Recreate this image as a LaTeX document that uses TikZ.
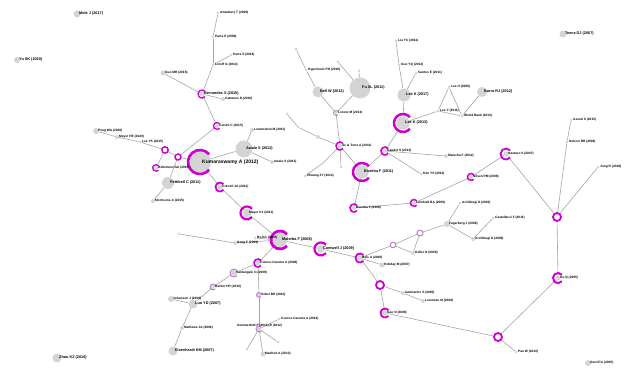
\documentclass[tikz,border=0pt]{standalone}
\usepackage{fontspec}
\setmainfont{Liberation Sans}
\usepackage{tikz}
\usetikzlibrary{backgrounds}
\usetikzlibrary{positioning}
\definecolor{ringmag}{RGB}{205,0,205}
\definecolor{ringlite}{RGB}{185,120,205}
\definecolor{paperfill}{RGB}{212,212,212}
\definecolor{linkgray}{RGB}{165,165,165}
\newcommand{\drawCring}[3]{\draw[cring, line width=#3] (#1.center)+(40:#2) arc[start angle=40, end angle=320, radius=#2];}
\newcommand{\drawOring}[3]{\draw[cring, line width=#3] (#1.center) circle[radius=#2];}
\newcommand{\drawLring}[2]{\draw[lring] (#1.center)+(40:#2) arc[start angle=40, end angle=320, radius=#2];}
\newcommand{\tagnode}[3]{\node[#3, right=2pt of #1.center] (#1-t) {#2};}
\tikzset{
    paper/.style={circle, fill=paperfill, inner sep=0pt, minimum size=#1},
    paper/.default=3pt,
    hub/.style={circle, inner sep=0pt, minimum size=#1},
    cring/.style={draw=ringmag},
    lring/.style={draw=ringlite, line width=0.9pt},
    link/.style={draw=linkgray, line width=0.6pt},
    tagS/.style={inner sep=0pt, font=\fontsize{3.2}{4}\selectfont\bfseries},
    tagM/.style={inner sep=0pt, font=\fontsize{3.8}{4.5}\selectfont\bfseries},
    tagL/.style={inner sep=0pt, font=\fontsize{5}{6}\selectfont\bfseries}}

\begin{document}
\begin{tikzpicture}[x=1pt, y=-1pt]
\useasboundingbox (0,0) rectangle (627,371);
% papers with no link
\node[paper=7pt] (mole)    at (77,14)   {};
\node[paper=6pt] (yu)      at (17,60)   {};
\node[paper=7pt] (teece)   at (563,34)  {};
\node[paper=9pt] (zhou)    at (57,358)  {};
\node[paper=6pt] (geroff)  at (588,363) {};
% left cluster
\node[paper=5pt]  (guo)        at (163,73)  {};
\node[paper]      (attenbury)  at (218,13)  {};
\node[paper]      (parraE)     at (213,37)  {};
\node[paper]      (parraS)     at (231,55)  {};
\node[paper]      (leroff)     at (213,65)  {};
\node[paper=5pt]  (bernardes)  at (202,94)  {};
\node[paper=4pt]  (cattaneo)   at (223,99)  {};
\node[paper=4pt]  (cerutti)    at (217,126) {};
\node[paper=6pt]  (pengWA)     at (96,131)  {};
\node[paper=4pt]  (meyerHE)    at (117,137) {};
\node[paper]      (leeYS)      at (140,142) {};
\node[hub=6pt]    (ringA)      at (165,150) {};
\node[hub=6pt]    (ringB)      at (178,157) {};
\node[paper=4pt]  (bellemont)  at (156,168) {};
\node[paper=12pt] (pettibell)  at (168,183) {};
\node[paper=4pt]  (morrisons)  at (153,201) {};
\node[paper=22pt] (kumar)      at (200,162) {};
\node[paper=17pt] (awale)      at (244,149) {};
\node[paper=4pt]  (lowenstein) at (252,130) {};
\node[paper=4pt]  (awale13)    at (272,162) {};
\node[paper=5pt]  (cottrell)   at (220,187) {};
\node[paper=9pt]  (mayer)      at (247,213) {};
% lower left cluster
\node[paper]      (dotDeng)    at (179,234) {};
\node[paper=4pt]  (deng)       at (235,243) {};
\node[paper]      (buKC)       at (255,238) {};
\node[paper=14pt] (malerba)    at (280,240) {};
\node[paper=8pt]  (cantwell)   at (321,249) {};
\node[paper=5pt]  (cuervo08)   at (258,263) {};
\node[paper=6pt]  (santangelo) at (234,273) {};
\node[paper=4pt]  (barber)     at (213,287) {};
\node[paper=9pt]  (luoYD)      at (193,304) {};
\node[paper=6pt]  (johanson)   at (171,299) {};
\node[paper=4pt]  (mathews)    at (182,328) {};
\node[paper=9pt]  (eisenhardt) at (173,351) {};
\node[paper=4pt]  (sobel)      at (259,295) {};
\node[paper=4pt]  (sommer)     at (259,329) {};
\node[paper]      (cuervo12)   at (279,319) {};
\node[paper=5pt]  (madhok)     at (263,354) {};
\node[paper]      (dotS1)      at (247,349) {};
\node[paper]      (dotS2)      at (278,342) {};
% top cluster
\node[paper]      (dotH1)      at (296,49)  {};
\node[paper]      (hyperionis) at (306,70)  {};
\node[paper=11pt] (bellW)      at (318,92)  {};
\node[paper=21pt] (fuxl)       at (360,88)  {};
\node[paper]      (dotF1)      at (338,62)  {};
\node[paper]      (dotF2)      at (359,71)  {};
\node[paper]      (lorenz)     at (336,113) {};
\node[paper]      (dotT1)      at (287,114) {};
\node[paper]      (dotT2)      at (298,127) {};
\node[paper=4pt]  (dotT3)      at (318,137) {};
\node[paper=4pt]  (delatorre)  at (340,146) {};
\node[paper]      (zhuang)     at (305,176) {};
\node[paper]      (dotZ)       at (323,163) {};
\node[paper]      (dotD)       at (341,167) {};
\node[paper=13pt] (bicerba)    at (362,172) {};
\node[paper=4pt]  (gaudet)     at (385,151) {};
\node[paper=13pt] (leeK13)     at (403,123) {};
\node[paper=13pt] (leeK17)     at (404,95)  {};
\node[paper]      (guoYQ)      at (399,65)  {};
\node[paper]      (liuYC)      at (396,41)  {};
\node[paper]      (santos)     at (416,73)  {};
\node[paper]      (leeY)       at (438,111) {};
\node[paper]      (leeH)       at (449,87)  {};
\node[paper]      (worldbank)  at (462,116) {};
\node[paper=10pt] (barro)      at (482,92)  {};
\node[paper=4pt]  (malecha)    at (446,156) {};
\node[paper]      (kimYS)      at (421,174) {};
% right cluster
\node[paper=4pt]  (bicerba08)  at (354,208) {};
\node[paper=4pt]  (lundvall)   at (414,203) {};
\node[paper=4pt]  (nilsen)     at (471,177) {};
\node[paper=5pt]  (nazzaro)    at (506,154) {};
\node[hub=8pt]    (hubR)       at (557,217) {};
\node[paper]      (nelson)     at (567,142) {};
\node[paper]      (assoti)     at (571,120) {};
\node[paper]      (jong)       at (598,167) {};
\node[paper=5pt]  (huQ)        at (558,278) {};
\node[hub=8pt]    (ringP)      at (498,337) {};
\node[paper]      (panW)       at (516,352) {};
\node[paper=6pt]  (fagerberg)  at (447,224) {};
\node[paper]      (archi03)    at (460,203) {};
\node[paper]      (castellacci) at (493,218) {};
\node[paper=4pt]  (archi09)    at (473,239) {};
\node[hub=6pt]    (ringK1)     at (420,233) {};
\node[hub=5pt]    (ringK2)     at (393,245) {};
\node[paper=4pt]  (koller)     at (413,253) {};
\node[paper=5pt]  (bais)       at (360,258) {};
\node[paper=5pt]  (hobday)     at (382,265) {};
\node[hub=8pt]    (ringI)      at (380,285) {};
\node[paper=4pt]  (iammarino)  at (403,293) {};
\node[paper=4pt]  (lorenzen)   at (423,301) {};
\node[paper=5pt]  (gaoN)       at (385,313) {};
% links
\begin{scope}[on background layer, every edge/.style={link}]
\fill[white] (0,0) rectangle (627,371);
\path
    (guo)        edge (bernardes)
    (attenbury)  edge (parraE)
    (parraE)     edge (leroff)
    (parraS)     edge (leroff)
    (leroff)     edge (bernardes)
    (bernardes)  edge (cattaneo)
    (bernardes)  edge (cerutti)
    (cerutti)    edge (ringB)
    (pengWA)     edge (meyerHE)
    (meyerHE)    edge (leeYS)
    (leeYS)      edge (ringA)
    (ringA)      edge (ringB)
    (ringA)      edge (bellemont)
    (ringB)      edge (kumar)
    (ringB)      edge (pettibell)
    (pettibell)  edge (morrisons)
    (kumar)      edge (awale)
    (awale)      edge (lowenstein)
    (awale)      edge (awale13)
    (kumar)      edge (cottrell)
    (cottrell)   edge (mayer)
    (mayer)      edge (malerba)
    (dotDeng)    edge (deng)
    (deng)       edge (malerba)
    (buKC)       edge (malerba)
    (malerba)    edge (cantwell)
    (malerba)    edge (cuervo08)
    (cuervo08)   edge (santangelo)
    (santangelo) edge (barber)
    (barber)     edge (luoYD)
    (luoYD)      edge (johanson)
    (luoYD)      edge (mathews)
    (mathews)    edge (eisenhardt)
    (cuervo08)   edge (sobel)
    (sobel)      edge (sommer)
    (sommer)     edge (cuervo12)
    (sommer)     edge (madhok)
    (sommer)     edge (dotS1)
    (sommer)     edge (dotS2)
    (cantwell)   edge (bais)
    (bais)       edge (ringK2)
    (bais)       edge (hobday)
    (bais)       edge (ringI)
    (ringK2)     edge (ringK1)
    (ringK2)     edge (koller)
    (ringK1)     edge (koller)
    (ringK1)     edge (fagerberg)
    (fagerberg)  edge (archi03)
    (fagerberg)  edge (archi09)
    (archi09)    edge (castellacci)
    (ringI)      edge (iammarino)
    (iammarino)  edge (lorenzen)
    (ringI)      edge (gaoN)
    (gaoN)       edge (ringP)
    (ringP)      edge (panW)
    (ringP)      edge (huQ)
    (huQ)        edge (hubR)
    (hubR)       edge (nelson)
    (nelson)     edge (assoti)
    (hubR)       edge (jong)
    (hubR)       edge (nazzaro)
    (nazzaro)    edge (nilsen)
    (nilsen)     edge (lundvall)
    (lundvall)   edge (bicerba08)
    (bicerba08)  edge (bicerba)
    (bicerba)    edge (delatorre)
    (delatorre)  edge (dotD)
    (delatorre)  edge (dotZ)
    (dotZ)       edge (zhuang)
    (delatorre)  edge (dotT3)
    (dotT3)      edge (dotT2)
    (dotT2)      edge (dotT1)
    (delatorre)  edge (lorenz)
    (lorenz)     edge (fuxl)
    (lorenz)     edge (bellW)
    (bellW)      edge (hyperionis)
    (hyperionis) edge (dotH1)
    (fuxl)       edge (dotF2)
    (fuxl)       edge (dotF1)
    (bicerba)    edge (gaudet)
    (gaudet)     edge (leeK13)
    (gaudet)     edge (malecha)
    (gaudet)     edge (kimYS)
    (leeK13)     edge (leeK17)
    (leeK17)     edge (guoYQ)
    (guoYQ)      edge (liuYC)
    (leeK17)     edge (santos)
    (leeK13)     edge (leeY)
    (leeY)       edge (leeH)
    (leeH)       edge (worldbank)
    (leeY)       edge (worldbank)
    (worldbank)  edge (barro);
\end{scope}
% rings
\drawCring{kumar}{12pt}{2.6pt}
\drawCring{bernardes}{4pt}{1.3pt}
\drawCring{cerutti}{3.5pt}{1.3pt}
\drawOring{ringA}{3.2pt}{1.4pt}
\drawOring{ringB}{3pt}{1.4pt}
\drawCring{bellemont}{3.3pt}{1.3pt}
\drawCring{cottrell}{4.5pt}{1.8pt}
\drawCring{mayer}{6.5pt}{2.2pt}
\drawCring{malerba}{9pt}{2.8pt}
\drawCring{cantwell}{6.5pt}{2.2pt}
\drawCring{cuervo08}{4pt}{1.6pt}
\drawLring{santangelo}{4pt}
\drawLring{barber}{3pt}
\drawLring{sobel}{2.5pt}
\drawLring{sommer}{3pt}
\drawLring{lorenz}{2.5pt}
\drawCring{delatorre}{4pt}{1.5pt}
\drawCring{bicerba}{9pt}{2.5pt}
\drawCring{gaudet}{4pt}{1.6pt}
\drawCring{leeK13}{9pt}{2.5pt}
\drawCring{bicerba08}{4pt}{1.6pt}
\drawCring{lundvall}{3.5pt}{1.5pt}
\drawCring{nilsen}{3.5pt}{1.5pt}
\drawCring{nazzaro}{5.5pt}{1.8pt}
\drawOring{hubR}{4pt}{1.8pt}
\drawCring{huQ}{5pt}{2pt}
\drawOring{ringP}{4pt}{1.8pt}
\draw[lring] (ringK1.center) circle[radius=3pt];
\draw[lring] (ringK2.center) circle[radius=2.8pt];
\drawCring{bais}{4.5pt}{1.8pt}
\drawOring{ringI}{4pt}{1.8pt}
\drawCring{gaoN}{4.5pt}{1.8pt}
% labels
\tagnode{mole}{Mole J (2017)}{tagM}
\tagnode{yu}{Yu SK (2020)}{tagM}
\tagnode{teece}{Teece DJ (2007)}{tagM}
\tagnode{zhou}{Zhou KZ (2016)}{tagM}
\tagnode{geroff}{Geroff G (2005)}{tagS}
\tagnode{guo}{Guo MR (2016)}{tagS}
\tagnode{attenbury}{Attenbury T (2009)}{tagS}
\tagnode{parraE}{Parra E (2009)}{tagS}
\tagnode{parraS}{Parra S (2014)}{tagS}
\tagnode{leroff}{Leroff G (2014)}{tagS}
\tagnode{bernardes}{Bernardes S (2015)}{tagM}
\tagnode{cattaneo}{Cattaneo D (2016)}{tagS}
\tagnode{cerutti}{Cerutti C (2015)}{tagS}
\tagnode{pengWA}{Peng WA (2020)}{tagS}
\tagnode{meyerHE}{Meyer HE (2020)}{tagS}
\tagnode{leeYS}{Lee YS (2015)}{tagS}
\tagnode{bellemont}{Bellemont GA (2015)}{tagS}
\tagnode{pettibell}{Pettibell C (2011)}{tagM}
\tagnode{morrisons}{Morrisons A (2015)}{tagS}
\tagnode{kumar}{Kumaraswamy A (2012)}{tagL}
\tagnode{awale}{Awale S (2012)}{tagM}
\tagnode{lowenstein}{Lowenstein M (2011)}{tagS}
\tagnode{awale13}{Awale S (2013)}{tagS}
\tagnode{cottrell}{Cottrell JA (2011)}{tagS}
\tagnode{mayer}{Mayer KJ (2011)}{tagS}
\tagnode{deng}{Deng F (2009)}{tagS}
\tagnode{buKC}{Bu KC (2008)}{tagS}
\tagnode{malerba}{Malerba F (2008)}{tagM}
\tagnode{cantwell}{Cantwell J (2009)}{tagM}
\tagnode{cuervo08}{Cuervo-Cazurra A (2008)}{tagS}
\tagnode{santangelo}{Santangelo G (2009)}{tagS}
\tagnode{barber}{Barber HP (2010)}{tagS}
\tagnode{luoYD}{Luo YD (2007)}{tagM}
\tagnode{johanson}{Johanson J (2009)}{tagS}
\tagnode{mathews}{Mathews JA (2006)}{tagS}
\tagnode{eisenhardt}{Eisenhardt KM (2007)}{tagM}
\tagnode{sobel}{Sobel BH (2010)}{tagS}
\node[tagS, anchor=west] (sommer-t) at (237,326) {Sommerfeld P (2011),B (2012)};
\tagnode{cuervo12}{Cuervo-Cazurra A (2012)}{tagS}
\tagnode{madhok}{Madhok A (2012)}{tagS}
\tagnode{hyperionis}{Hyperionis PH (2016)}{tagS}
\tagnode{bellW}{Bell W (2012)}{tagM}
\tagnode{fuxl}{Fu XL (2011)}{tagM}
\tagnode{lorenz}{Lorenz M (2013)}{tagS}
\tagnode{delatorre}{de la Torre A (2011)}{tagS}
\tagnode{zhuang}{Zhuang JY (2014)}{tagS}
\tagnode{bicerba}{Bicerba F (2011)}{tagM}
\tagnode{gaudet}{Gaudet S (2013)}{tagS}
\tagnode{leeK13}{Lee K (2013)}{tagM}
\tagnode{leeK17}{Lee K (2017)}{tagM}
\tagnode{guoYQ}{Guo YQ (2013)}{tagS}
\tagnode{liuYC}{Liu YC (2011)}{tagS}
\tagnode{santos}{Santos E (2011)}{tagS}
\tagnode{leeY}{Lee Y (2011)}{tagS}
\tagnode{leeH}{Lee H (2009)}{tagS}
\tagnode{worldbank}{World Bank (2013)}{tagS}
\tagnode{barro}{Barro RJ (2012)}{tagM}
\tagnode{malecha}{Malecha F (2012)}{tagS}
\tagnode{kimYS}{Kim YS (2012)}{tagS}
\tagnode{bicerba08}{Bicerba F (2008)}{tagS}
\tagnode{lundvall}{Lundvall BA (2009)}{tagS}
\tagnode{nilsen}{Nilsen PM (2009)}{tagS}
\tagnode{nazzaro}{Nazzaro S (2007)}{tagS}
\tagnode{nelson}{Nelson RR (2008)}{tagS}
\tagnode{assoti}{Assoti S (2015)}{tagS}
\tagnode{jong}{Jong R (2019)}{tagS}
\tagnode{huQ}{Hu Q (2005)}{tagS}
\tagnode{panW}{Pan W (2010)}{tagS}
\tagnode{fagerberg}{Fagerberg J (2008)}{tagS}
\tagnode{archi03}{Archibugi D (2003)}{tagS}
\tagnode{castellacci}{Castellacci F (2011)}{tagS}
\tagnode{archi09}{Archibugi D (2009)}{tagS}
\tagnode{koller}{Koller N (2009)}{tagS}
\tagnode{bais}{Bais A (2008)}{tagS}
\tagnode{hobday}{Hobday M (2007)}{tagS}
\tagnode{iammarino}{Iammarino S (2005)}{tagS}
\tagnode{lorenzen}{Lorenzen M (2008)}{tagS}
\tagnode{gaoN}{Gao N (2008)}{tagS}
\end{tikzpicture}
\end{document}
